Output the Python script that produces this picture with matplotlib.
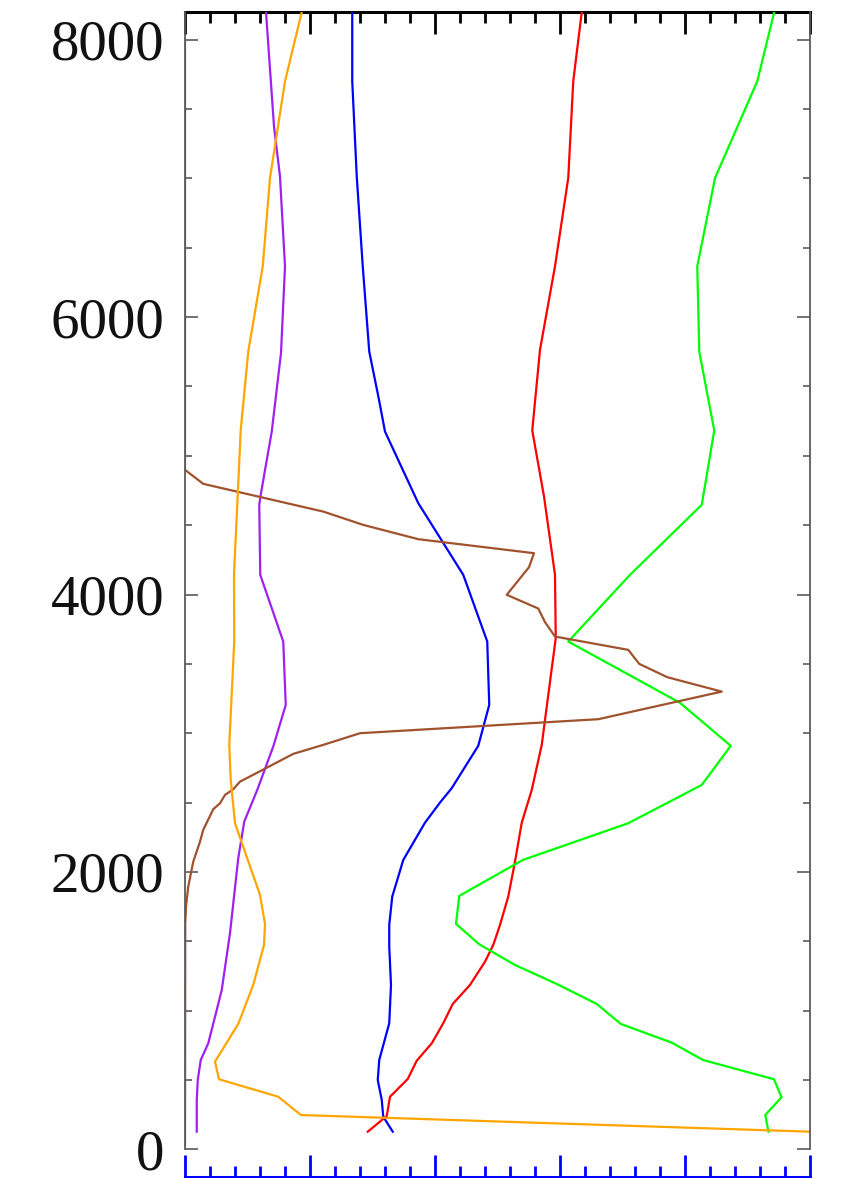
import matplotlib
matplotlib.use("Agg")
import matplotlib.pyplot as plt
from matplotlib.ticker import MultipleLocator

# profiles: altitude (y) against value (x), one pair of lists per species
blue_z = [8200, 7700, 7014, 6366, 5752, 5404, 5175, 4659, 4142, 3661, 3204, 2909,
          2604, 2500, 2355, 2086, 1822, 1618, 1461, 1185, 909, 644, 500, 356, 235, 127]
blue_x = [6.69, 6.69, 6.87, 7.11, 7.37, 7.76, 8.0, 9.33, 11.13, 12.09, 12.17, 11.73,
          10.67, 10.2, 9.6, 8.73, 8.29, 8.17, 8.17, 8.24, 8.17, 7.77, 7.71, 7.87, 7.93, 8.31]

red_z = [8200, 7700, 7003, 6366, 5765, 5183, 4707, 4142, 3685, 3096, 2916, 2591, 2355,
         2074, 1822, 1618, 1473, 1353, 1185, 1048, 909, 764, 639, 507, 379, 240, 127]
red_x = [15.87, 15.53, 15.33, 14.8, 14.2, 13.89, 14.36, 14.8, 14.83, 14.4, 14.27, 13.87, 13.47,
         13.2, 12.93, 12.6, 12.33, 12.0, 11.4, 10.71, 10.33, 9.87, 9.27, 8.91, 8.2, 8.07, 7.31]

green_z = [8200, 7700, 7003, 6366, 5752, 5183, 4647, 4142, 3661, 3219, 2909, 2627, 2351,
           2086, 1827, 1625, 1478, 1329, 1192, 1048, 904, 769, 644, 505, 375, 247, 127]
green_x = [23.57, 22.89, 21.2, 20.49, 20.57, 21.17, 20.67, 17.8, 15.33, 19.8, 21.83, 20.67, 17.73,
           13.51, 10.97, 10.84, 11.77, 13.2, 14.87, 16.47, 17.43, 19.47, 20.72, 23.56, 23.86, 23.21, 23.34]

purple_z = [8200, 7375, 7014, 6366, 5741, 5175, 4731, 4647, 4142, 3661, 3204, 2904,
            2591, 2363, 2099, 1558, 1149, 1005, 764, 644, 500, 356, 127]
purple_x = [3.24, 3.56, 3.8, 4.0, 3.84, 3.47, 3.04, 2.97, 3.01, 3.93, 4.03, 3.53,
            2.89, 2.37, 2.13, 1.8, 1.47, 1.27, 0.93, 0.63, 0.51, 0.47, 0.47]

orange_z = [8200, 7700, 7003, 6366, 5752, 5188, 4142, 3661, 2916, 2663, 2351, 1834,
            1625, 1473, 1185, 904, 632, 505, 379, 247, 127]
orange_x = [4.67, 4.0, 3.4, 3.11, 2.53, 2.23, 1.96, 1.97, 1.77, 1.83, 2.0, 3.0,
            3.2, 3.16, 2.73, 2.13, 1.2, 1.36, 3.73, 4.64, 25.0]

brown_z = [8000, 4899, 4798, 4598, 4502, 4399, 4298, 4197, 3998, 3899, 3801, 3697, 3601,
           3500, 3404, 3300, 3101, 3000, 2916, 2851, 2707, 2651, 2596, 2555, 2495, 2452,
           2303, 2218, 2074, 1894, 1750, 1630, 30]
brown_x = [0.0, 0.0, 0.73, 5.53, 7.13, 9.33, 13.96, 13.76, 12.87, 14.13, 14.4, 14.8, 17.73,
           18.17, 19.29, 21.47, 16.53, 7.0, 5.53, 4.33, 2.8, 2.2, 1.93, 1.6, 1.4, 1.13,
           0.73, 0.6, 0.33, 0.13, 0.04, 0.01, 0.0]

yticks = [0, 2000, 4000, 6000, 8000]

fig = plt.figure(figsize=(8.45, 11.78), dpi=100)
ax = fig.add_axes([185 / 845, 1 - 1149.3 / 1178, 625 / 845, 1137.3 / 1178])

lw = 1.6
ax.plot(blue_x, blue_z, color='#0000ff', lw=lw)
ax.plot(red_x, red_z, color='#ff0000', lw=lw)
ax.plot(green_x, green_z, color='#00ff00', lw=lw)
ax.plot(purple_x, purple_z, color='#a020f0', lw=lw)
ax.plot(brown_x, brown_z, color='#a0522d', lw=lw)
ax.plot(orange_x, orange_z, color='#ffa500', lw=lw)

ax.set_xlim(0, 25)
ax.set_ylim(0, 8200)

# left / right: thin grey axes, ticks pointing in
gray = '#5a5a5a'
for side in ('left', 'right'):
    ax.spines[side].set_color(gray)
    ax.spines[side].set_linewidth(1.3)
ax.yaxis.set_major_locator(MultipleLocator(2000))
ax.yaxis.set_minor_locator(MultipleLocator(500))
ax.set_yticks(yticks)
ax.set_yticklabels([str(t) for t in yticks])
ax.tick_params(axis='y', which='both', direction='in', left=True, right=True,
               color=gray, width=1.2)
ax.tick_params(axis='y', which='major', length=9.5, pad=15,
               labelsize=41, labelcolor='#111111')
ax.tick_params(axis='y', which='minor', length=4.7)
for lab in ax.get_yticklabels():
    lab.set_family('Liberation Serif')

# bottom: blue axis pushed below the frame, ticks pointing up
ax.spines['bottom'].set_position(('outward', 19.6))
ax.spines['bottom'].set_color('#0000ff')
ax.spines['bottom'].set_linewidth(2.2)
ax.xaxis.set_major_locator(MultipleLocator(5))
ax.xaxis.set_minor_locator(MultipleLocator(1))
ax.tick_params(axis='x', which='both', direction='in', bottom=True, top=False,
               color='#0000ff', width=2.0, labelbottom=False)
ax.tick_params(axis='x', which='major', length=16)
ax.tick_params(axis='x', which='minor', length=7.8)

# top: heavy black axis
ax.spines['top'].set_visible(False)
top = ax.secondary_xaxis('top')
top.spines['top'].set_color('black')
top.spines['top'].set_linewidth(2.2)
top.xaxis.set_major_locator(MultipleLocator(5))
top.xaxis.set_minor_locator(MultipleLocator(1))
top.tick_params(axis='x', which='both', direction='in', color='black', width=2.0,
                labeltop=False)
top.tick_params(axis='x', which='major', length=16)
top.tick_params(axis='x', which='minor', length=8)

fig.savefig('out.png', dpi=100)
